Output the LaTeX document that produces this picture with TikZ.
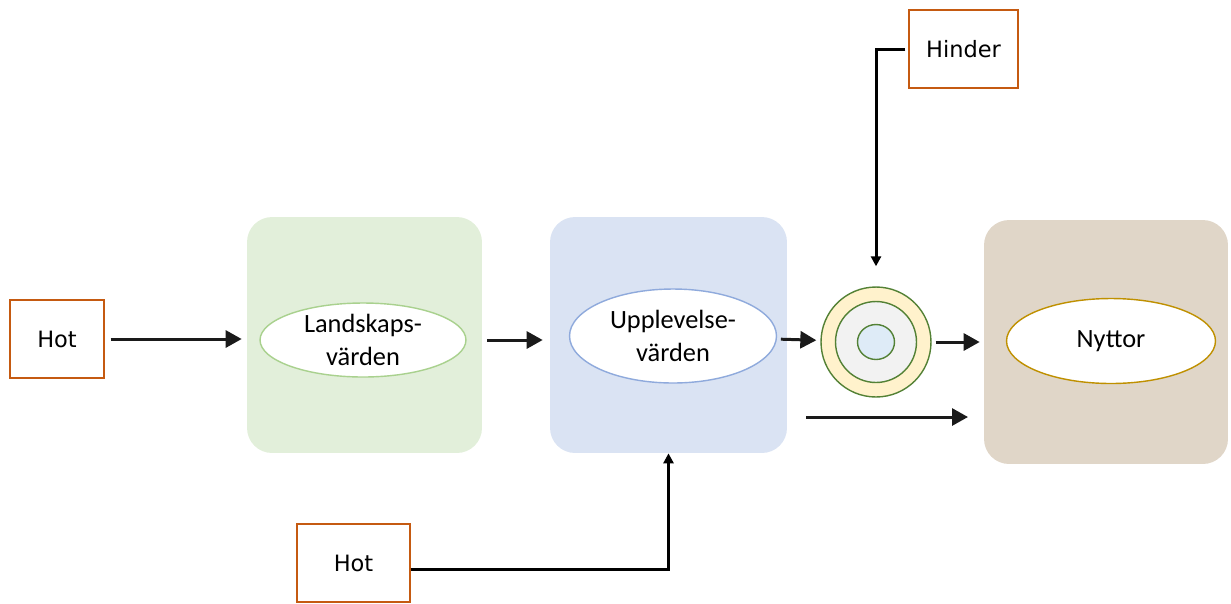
\documentclass[tikz,border=0pt]{standalone}
\usepackage{fontspec}
\setmainfont{Carlito}
\newfontfamily\boxfont{DejaVu Sans}
\usepackage{tikz}
\usetikzlibrary{shapes.geometric,arrows.meta,positioning,calc}
\definecolor{hotline}{HTML}{C55A11}
\definecolor{landfill}{HTML}{E2EFDA}
\definecolor{landline}{HTML}{A9D18E}
\definecolor{uppfill}{HTML}{DAE3F3}
\definecolor{uppline}{HTML}{8FAADC}
\definecolor{nyttfill}{HTML}{E0D6C8}
\definecolor{nyttline}{HTML}{BF9000}
\definecolor{ringline}{HTML}{538135}
\definecolor{ringa}{HTML}{FFF2CC}
\definecolor{ringb}{HTML}{F2F2F2}
\definecolor{ringc}{HTML}{DEEBF7}
\definecolor{pil}{HTML}{1A1A1A}

\begin{document}
\begin{tikzpicture}[x=0.02cm, y=-0.02cm]
\tikzstyle{hot}=[draw=hotline, thick, minimum height=1.56cm, inner sep=0pt, font=\boxfont\fontsize{12.8}{15}\selectfont]
\tikzstyle{panel}=[rounded corners=0.5cm, inner sep=0pt]
\tikzstyle{value}=[ellipse, draw, thick, fill=white, inner sep=0pt, align=center, font=\fontsize{15}{18.5}\selectfont]
\tikzstyle{ring}=[circle, draw=ringline, thick, inner sep=0pt]
\tikzstyle{flow}=[pil, line width=1.7pt, -{Triangle[length=0.32cm, width=0.34cm]}]
\tikzstyle{feed}=[black, line width=1.7pt, -{Triangle[length=0.2cm, width=0.2cm]}]

\useasboundingbox (0,0) rectangle (1231,603);

% panels
\node[panel, fill=landfill, minimum width=4.7cm, minimum height=4.72cm] (land) at (364.5,335) {};
\node[panel, fill=uppfill, minimum width=4.74cm, minimum height=4.72cm] (upp) at (668.5,335) {};
\node[panel, fill=nyttfill, minimum width=4.88cm, minimum height=4.88cm] (nytt) at (1106,342) {};

% values
\node[value, draw=landline, minimum width=4.12cm, minimum height=1.48cm] (landv) at (363,340) {Landskaps-\\värden};
\node[value, draw=uppline, minimum width=4.14cm, minimum height=1.88cm] (uppv) at (673,336) {Upplevelse-\\värden};
\node[value, draw=nyttline, minimum width=4.18cm, minimum height=1.7cm] (nyttv) at (1111,341) {Nyttor};

% rings
\node[ring, fill=ringa, minimum size=2.2cm] (ring) at (876,342) {};
\node[ring, fill=ringb, minimum size=1.62cm] (ringm) at (876,342) {};
\node[ring, ellipse, fill=ringc, minimum width=0.74cm, minimum height=0.7cm] (ringi) at (876,342) {};

% threats
\node[hot, minimum width=1.88cm] (hot1) at (57,339) {Hot};
\node[hot, minimum width=2.26cm] (hot2) at (353.5,563) {Hot};
\node[hot, minimum width=2.18cm] (hinder) at (963.5,49) {Hinder};

\coordinate (lowa) at (806,417);
\coordinate (lowb) at (968,417);

\draw[flow, shorten <=0.12cm, shorten >=0.1cm] (hot1.east) -- (land.west |- hot1.east);
\draw[flow, shorten <=0.1cm, shorten >=0.14cm] (land.east |- landv) -- (upp.west |- landv);
\foreach \a/\b in {uppv/ring, ring/nytt}
{\draw[flow, shorten <=0.08cm, shorten >=0.08cm] (\a) -- (\b);}
\draw[flow] (lowa) -- (lowb);

\draw[feed, shorten >=0.4cm] ([xshift=-0.06cm]hinder.west) -| (ring.north);
\draw[feed] ([yshift=-0.12cm]hot2.east) -| (upp.south);
\end{tikzpicture}
\end{document}
